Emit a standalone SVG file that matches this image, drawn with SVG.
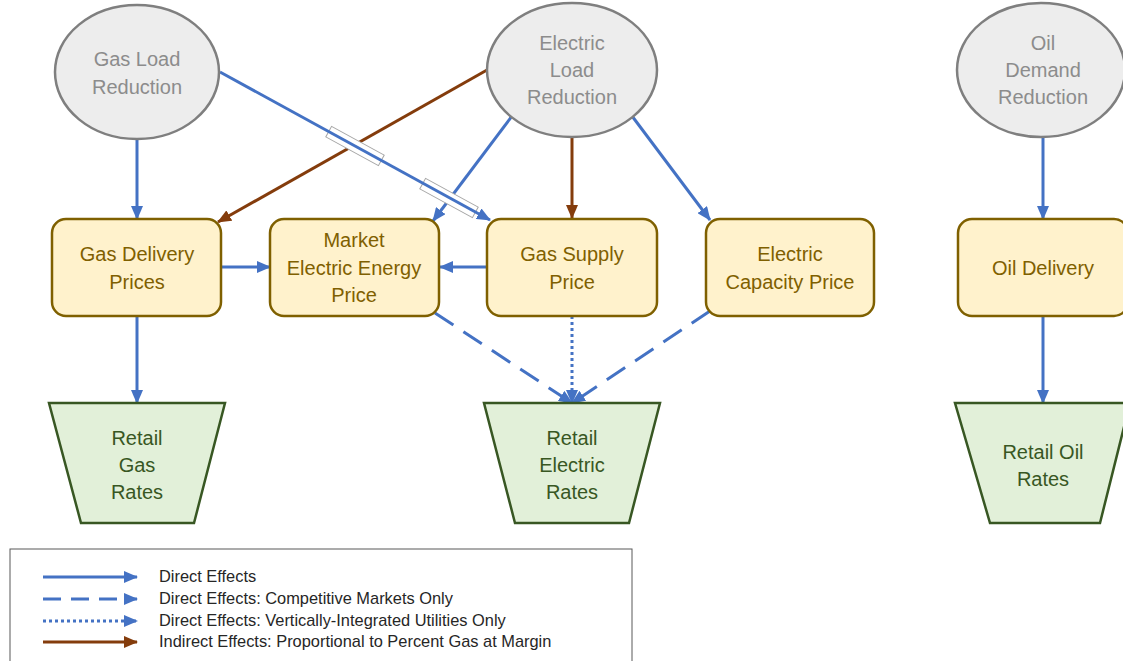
<svg xmlns="http://www.w3.org/2000/svg" width="1123" height="661" viewBox="0 0 1123 661">
<defs>
<marker id="ab" markerUnits="userSpaceOnUse" markerWidth="14" markerHeight="12" viewBox="0 0 14 12" refX="13" refY="6" orient="auto"><path d="M0,0 L14,6 L0,12 z" fill="#4472C4"/></marker>
<marker id="ar" markerUnits="userSpaceOnUse" markerWidth="14" markerHeight="12" viewBox="0 0 14 12" refX="13" refY="6" orient="auto"><path d="M0,0 L14,6 L0,12 z" fill="#843C0C"/></marker>
<style>
.ell{fill:#EDEDED;stroke:#7F7F7F;stroke-width:2.5}
.ellt{fill:#8C8C8C;font-family:"Liberation Sans",Arial,sans-serif;font-size:20px;text-anchor:middle}
.box{fill:#FFF2CC;stroke:#7F6000;stroke-width:2.5}
.boxt{fill:#7F6000;font-family:"Liberation Sans",Arial,sans-serif;font-size:20px;text-anchor:middle}
.trap{fill:#E2F0D9;stroke:#385723;stroke-width:2.5}
.trapt{fill:#385723;font-family:"Liberation Sans",Arial,sans-serif;font-size:20px;text-anchor:middle}
.b{stroke:#4472C4;stroke-width:3;fill:none}
.r{stroke:#843C0C;stroke-width:3;fill:none}
.dash{stroke-dasharray:22 12}
.dot{stroke-dasharray:3 3}
.jump{fill:#fff;stroke:#A6A6A6;stroke-width:1}
.lt{fill:#262626;font-family:"Liberation Sans",Arial,sans-serif;font-size:16.4px}
</style>
</defs>
<rect width="1123" height="661" fill="#fff"/>
<g id="connectors">
<line class="b" x1="137" y1="140" x2="137" y2="219" marker-end="url(#ab)"/>
<line class="r" x1="487" y1="70" x2="218" y2="222" marker-end="url(#ar)"/>
<line class="b" x1="512" y1="116" x2="433" y2="221" marker-end="url(#ab)"/>
<rect class="jump" x="325" y="140" width="60" height="12" transform="rotate(28.7 355 146)"/>
<rect class="jump" x="419" y="192" width="60" height="12" transform="rotate(28.7 449 198)"/>
<line class="b" x1="220" y1="72" x2="490" y2="220" marker-end="url(#ab)"/>
<line class="r" x1="572" y1="137" x2="572" y2="218" marker-end="url(#ar)"/>
<line class="b" x1="632" y1="116" x2="710" y2="220" marker-end="url(#ab)"/>
<line class="b" x1="221" y1="267" x2="270" y2="267" marker-end="url(#ab)"/>
<line class="b" x1="487" y1="267" x2="440" y2="267" marker-end="url(#ab)"/>
<line class="b" x1="137" y1="316" x2="137" y2="403" marker-end="url(#ab)"/>
<line class="b dash" x1="435" y1="313" x2="572" y2="403" marker-end="url(#ab)"/>
<line class="b dot" x1="572" y1="316" x2="572" y2="403" marker-end="url(#ab)"/>
<line class="b dash" x1="710" y1="311" x2="572" y2="403" marker-end="url(#ab)"/>
<line class="b" x1="1043" y1="137" x2="1043" y2="219" marker-end="url(#ab)"/>
<line class="b" x1="1043" y1="316" x2="1043" y2="403" marker-end="url(#ab)"/>
</g>
<g id="gas-load">
<ellipse class="ell" cx="137" cy="72" rx="82" ry="67"/>
<text class="ellt" x="137" y="66">Gas Load</text>
<text class="ellt" x="137" y="94">Reduction</text>
</g>
<g id="electric-load">
<ellipse class="ell" cx="572" cy="70" rx="85" ry="67"/>
<text class="ellt" x="572" y="50">Electric</text>
<text class="ellt" x="572" y="77">Load</text>
<text class="ellt" x="572" y="104">Reduction</text>
</g>
<g id="oil-demand">
<ellipse class="ell" cx="1041" cy="70" rx="84" ry="67"/>
<text class="ellt" x="1043" y="50">Oil</text>
<text class="ellt" x="1043" y="77">Demand</text>
<text class="ellt" x="1043" y="104">Reduction</text>
</g>
<g id="gas-delivery">
<rect class="box" x="52" y="219" width="169" height="97" rx="14"/>
<text class="boxt" x="137" y="261">Gas Delivery</text>
<text class="boxt" x="137" y="289">Prices</text>
</g>
<g id="market-electric">
<rect class="box" x="270" y="219" width="169" height="97" rx="14"/>
<text class="boxt" x="354" y="247">Market</text>
<text class="boxt" x="354" y="275">Electric Energy</text>
<text class="boxt" x="354" y="302">Price</text>
</g>
<g id="gas-supply">
<rect class="box" x="487" y="219" width="170" height="97" rx="14"/>
<text class="boxt" x="572" y="261">Gas Supply</text>
<text class="boxt" x="572" y="289">Price</text>
</g>
<g id="electric-capacity">
<rect class="box" x="706" y="219" width="168" height="97" rx="14"/>
<text class="boxt" x="790" y="261">Electric</text>
<text class="boxt" x="790" y="289">Capacity Price</text>
</g>
<g id="oil-delivery">
<rect class="box" x="958" y="219" width="170" height="97" rx="14"/>
<text class="boxt" x="1043" y="275">Oil Delivery</text>
</g>
<g id="retail-gas">
<path class="trap" d="M49,403 L225,403 L194,523 L81,523 z"/>
<text class="trapt" x="137" y="445">Retail</text>
<text class="trapt" x="137" y="472">Gas</text>
<text class="trapt" x="137" y="499">Rates</text>
</g>
<g id="retail-electric">
<path class="trap" d="M484,403 L660,403 L629,523 L515,523 z"/>
<text class="trapt" x="572" y="445">Retail</text>
<text class="trapt" x="572" y="472">Electric</text>
<text class="trapt" x="572" y="499">Rates</text>
</g>
<g id="retail-oil">
<path class="trap" d="M955,403 L1130,403 L1100,523 L990,523 z"/>
<text class="trapt" x="1043" y="459">Retail Oil</text>
<text class="trapt" x="1043" y="486">Rates</text>
</g>
<g id="legend">
<rect x="10" y="549" width="622" height="130" fill="#fff" stroke="#595959" stroke-width="1"/>
<line class="b" x1="43" y1="577" x2="137" y2="577" marker-end="url(#ab)"/>
<line class="b dash" x1="43" y1="599" x2="137" y2="599" marker-end="url(#ab)" style="stroke-dasharray:18 10"/>
<line class="b dot" x1="43" y1="621" x2="137" y2="621" marker-end="url(#ab)"/>
<line class="r" x1="43" y1="642" x2="137" y2="642" marker-end="url(#ar)"/>
<text class="lt" x="159" y="582">Direct Effects</text>
<text class="lt" x="159" y="604">Direct Effects: Competitive Markets Only</text>
<text class="lt" x="159" y="626">Direct Effects: Vertically-Integrated Utilities Only</text>
<text class="lt" x="159" y="647">Indirect Effects: Proportional to Percent Gas at Margin</text>
</g>
</svg>
